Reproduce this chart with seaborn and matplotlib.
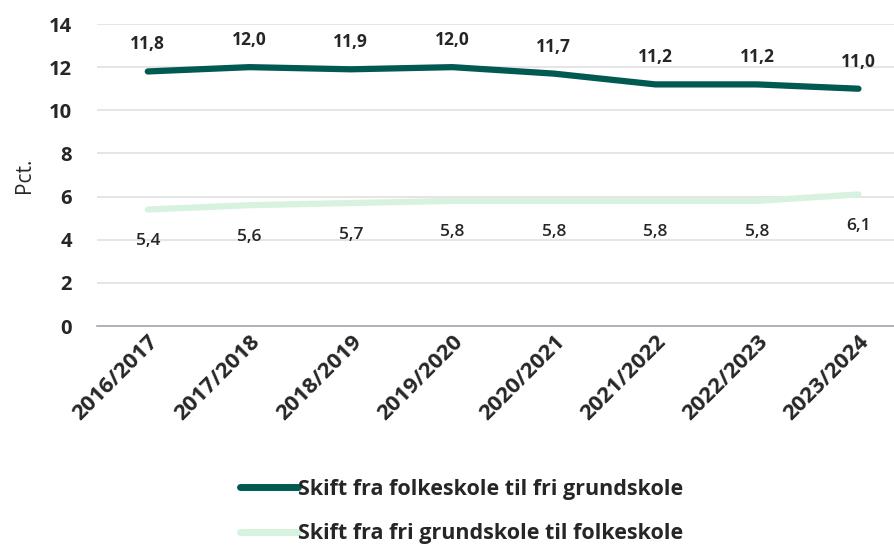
import numpy as np
import pandas as pd
import seaborn as sns
import matplotlib.pyplot as plt

# data
years = ['2016/2017', '2017/2018', '2018/2019', '2019/2020',
         '2020/2021', '2021/2022', '2022/2023', '2023/2024']
folke_til_fri = [11.8, 12.0, 11.9, 12.0, 11.7, 11.2, 11.2, 11.0]
fri_til_folke = [5.4, 5.6, 5.7, 5.8, 5.8, 5.8, 5.8, 6.1]
serie_navne = ['Skift fra folkeskole til fri grundskole',
               'Skift fra fri grundskole til folkeskole']
farver = ['#005A52', '#D8F2E0']

df = pd.DataFrame({
    'aar': years * 2,
    'pct': folke_til_fri + fri_til_folke,
    'serie': [serie_navne[0]] * len(years) + [serie_navne[1]] * len(years),
})

sns.set_theme(style='white')
plt.rcParams['font.family'] = ['Open Sans', 'DejaVu Sans']

fig = plt.figure(figsize=(8.95, 5.47), dpi=100)
ax = fig.add_axes([97 / 895, 1 - 326 / 547, (895 - 97) / 895, 302 / 547])

sns.lineplot(data=df, x='aar', y='pct', hue='serie', palette=farver,
             linewidth=4.5, sort=False, ax=ax)

# datalabels
for i, v in enumerate(folke_til_fri):
    ax.annotate(f'{v:.1f}'.replace('.', ','), (i, v), xytext=(0, 13),
                textcoords='offset points', ha='center', va='bottom',
                fontsize=12.5, fontweight='bold')
for i, v in enumerate(fri_til_folke):
    ax.annotate(f'{v:.1f}'.replace('.', ','), (i, v), xytext=(0, -17),
                textcoords='offset points', ha='center', va='top',
                fontsize=12.5, fontweight='semibold')

ax.set_xlim(-0.5, 7.36)
ax.set_ylim(0, 14)
ax.set_yticks(range(0, 15, 2))
ax.yaxis.grid(True, color='#E0E0E0', linewidth=1.2)
ax.set_axisbelow(True)
for s in ['top', 'right', 'left']:
    ax.spines[s].set_visible(False)
ax.spines['bottom'].set_color('#A6A6B5')
ax.spines['bottom'].set_linewidth(1.2)

ax.tick_params(axis='y', labelsize=14.5, pad=18, length=0)
ax.tick_params(axis='x', labelsize=16, length=0, pad=4)
for t in ax.get_yticklabels():
    t.set_fontweight('bold')
plt.setp(ax.get_xticklabels(), rotation=45, ha='right',
         rotation_mode='anchor', fontweight='bold')

ax.set_xlabel('')
ax.set_ylabel('Pct.', fontsize=15, labelpad=10)

leg = ax.legend(loc='upper left', bbox_to_anchor=(229 / 895, 1 - 468 / 547),
                bbox_transform=fig.transFigure, frameon=False,
                fontsize=15.5, handlelength=2.7, handletextpad=0.0,
                labelspacing=1.1, borderpad=0)
for line in leg.get_lines():
    line.set_linewidth(5)
for t in leg.get_texts():
    t.set_fontweight('bold')

fig.savefig('out.png', dpi=100)
